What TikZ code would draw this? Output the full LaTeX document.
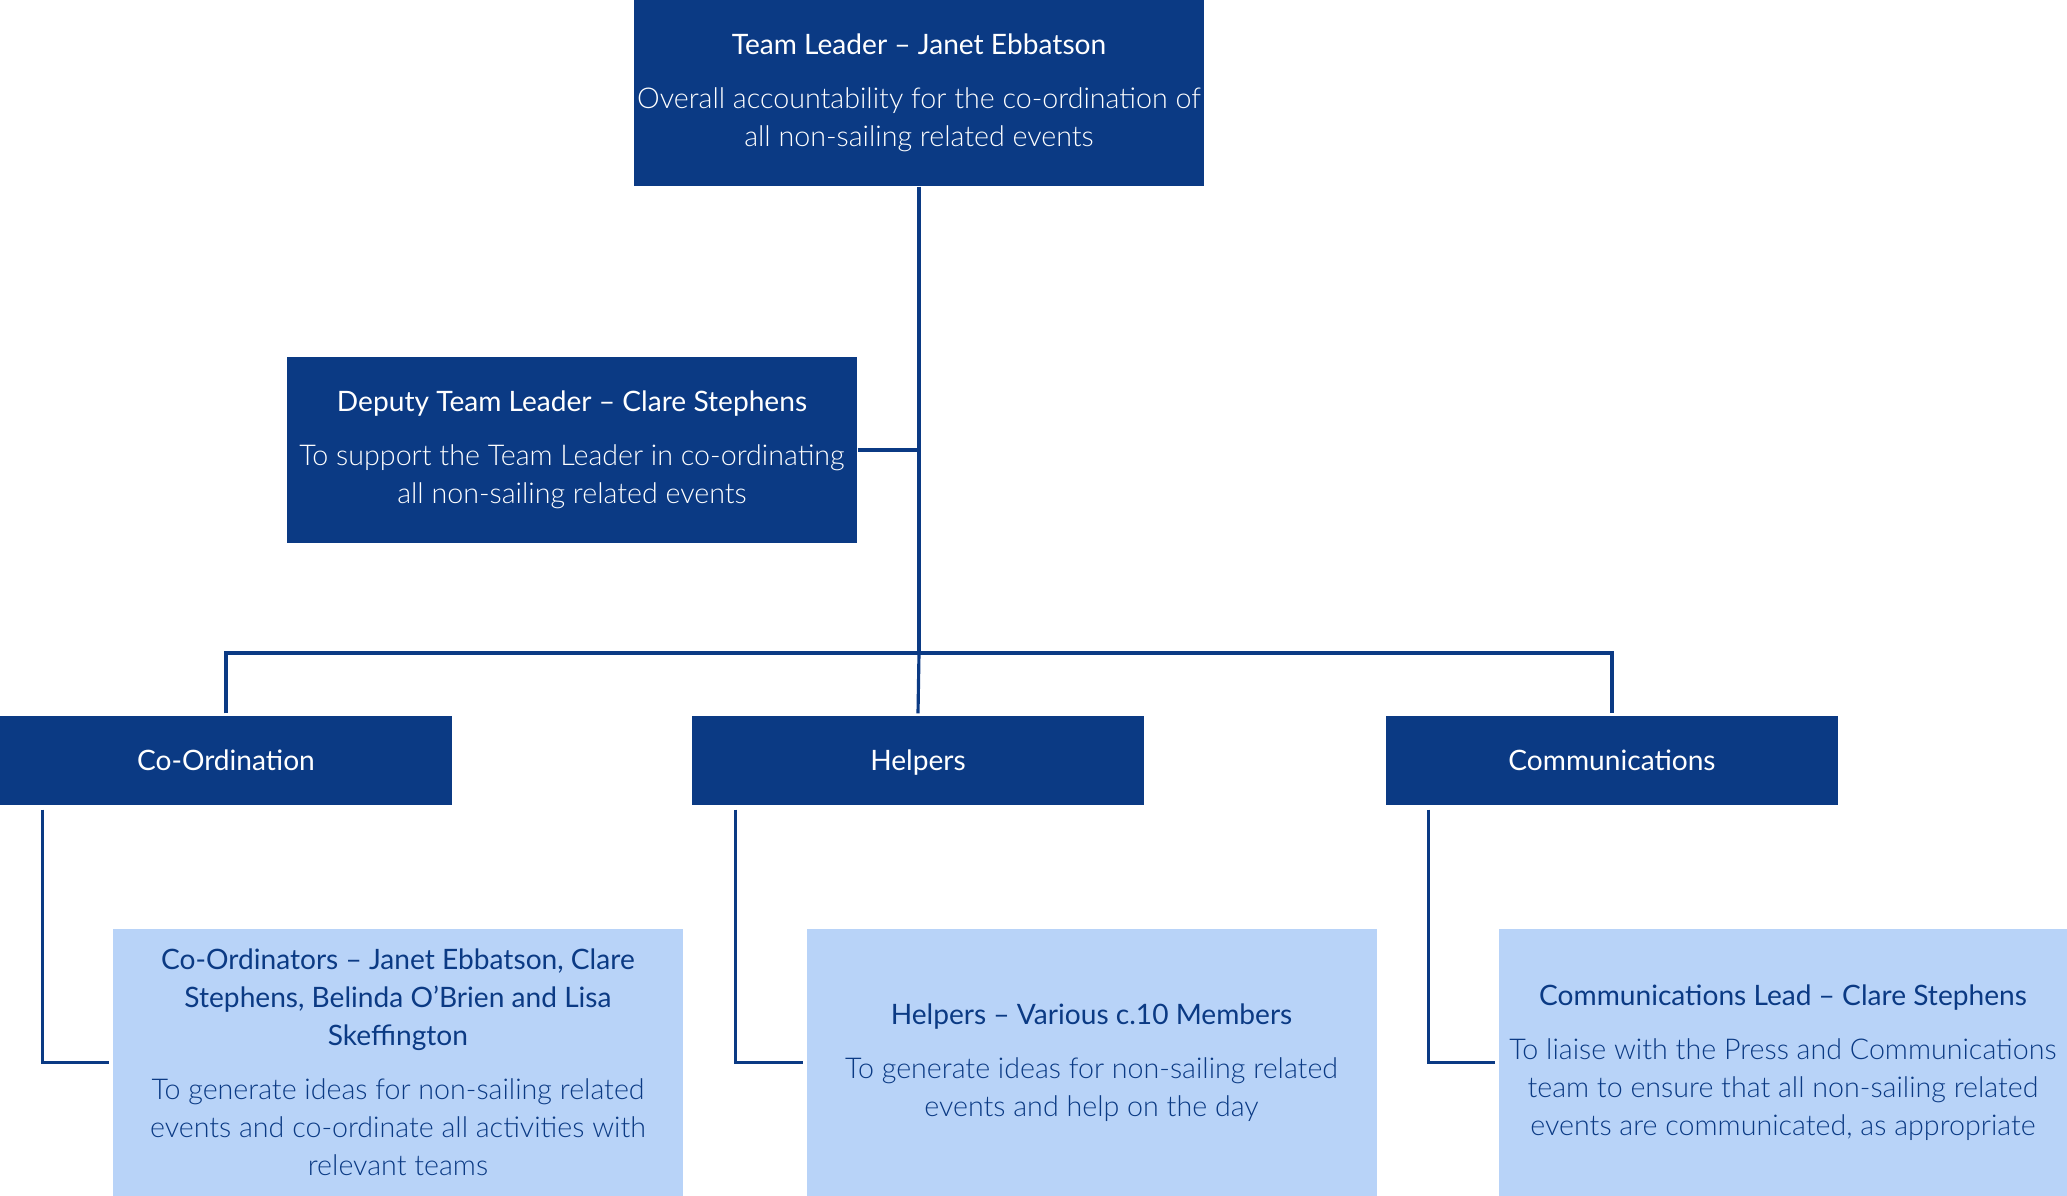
\documentclass[tikz,border=0pt]{standalone}
\usepackage{fontspec}
\setmainfont{Lato}
\newfontfamily\lightfont{Lato Light}
\definecolor{navy}{RGB}{11,58,132}
\definecolor{paleblue}{RGB}{184,211,248}
\begin{document}
\begin{tikzpicture}
\tikzstyle{every node}+=[inner sep=0pt]
\tikzstyle{darkbox}=[fill=navy, text=white, align=center, minimum width=5.7cm, minimum height=1.86cm, font=\fontsize{8}{10.8}\selectfont]
\tikzstyle{unitbox}=[fill=navy, text=white, align=center, minimum width=4.52cm, minimum height=0.89cm, text height=1.6ex, text depth=0.5ex, font=\fontsize{8}{10.8}\selectfont]
\tikzstyle{teambox}=[fill=paleblue, text=navy, align=center, minimum width=5.7cm, minimum height=2.67cm, font=\fontsize{8}{10.8}\selectfont]
\tikzstyle{conn}=[draw=navy, line width=0.9pt]
\useasboundingbox (0,0) rectangle (20.67,11.96);
% top of the tree
\node[darkbox] (lead) at (9.19,11.03) {Team Leader -- Janet Ebbatson\\[4.5pt]{\lightfont\fontsize{8.15}{10.8}\selectfont Overall accountability for the co-ordination of}\\{\lightfont\fontsize{8.15}{10.8}\selectfont all non-sailing related events}};
\node[darkbox] (deputy) at (5.72,7.46) {Deputy Team Leader -- Clare Stephens\\[4.5pt]{\lightfont\fontsize{8.15}{10.8}\selectfont To support the Team Leader in co-ordinating}\\{\lightfont\fontsize{8.15}{10.8}\selectfont all non-sailing related events}};
% the three units
\node[unitbox] (coord) at (2.26,4.355) {Co-Ordination};
\node[unitbox] (helpers) at (9.18,4.355) {Helpers};
\node[unitbox] (comms) at (16.12,4.355) {Communications};
% teams
\node[teambox] (coordteam) at (3.98,1.335) {Co-Ordinators -- Janet Ebbatson, Clare\\Stephens, Belinda O’Brien and Lisa\\Skeffington\\[4.5pt]{\lightfont\fontsize{8.15}{10.8}\selectfont To generate ideas for non-sailing related}\\{\lightfont\fontsize{8.15}{10.8}\selectfont events and co-ordinate all activities with}\\{\lightfont\fontsize{8.15}{10.8}\selectfont relevant teams}};
\node[teambox] (helpteam) at (10.915,1.335) {Helpers -- Various c.10 Members\\[4.5pt]{\lightfont\fontsize{8.15}{10.8}\selectfont To generate ideas for non-sailing related}\\{\lightfont\fontsize{8.15}{10.8}\selectfont events and help on the day}};
\node[teambox, minimum width=5.68cm] (commteam) at (17.83,1.335) {Communications Lead -- Clare Stephens\\[4.5pt]{\lightfont\fontsize{8.15}{10.8}\selectfont To liaise with the Press and Communications}\\{\lightfont\fontsize{8.15}{10.8}\selectfont team to ensure that all non-sailing related}\\{\lightfont\fontsize{8.15}{10.8}\selectfont events are communicated, as appropriate}};
% connectors
\coordinate (hub) at (9.19,5.43);
\draw[conn] (lead.south) -- (hub);
\draw[conn] (deputy.east) -- (deputy.east -| hub);
\draw[conn] ([yshift=0.02cm]coord.north) |- (hub) -| ([yshift=0.02cm]comms.north);
\draw[conn] (hub) -- ([yshift=0.02cm]helpers.north);
\draw[conn, shorten >=0.03cm] ([xshift=0.43cm,yshift=-0.04cm]coord.south west) |- (coordteam.west);
\draw[conn, shorten >=0.03cm] ([xshift=0.44cm,yshift=-0.04cm]helpers.south west) |- (helpteam.west);
\draw[conn, shorten >=0.03cm] ([xshift=0.43cm,yshift=-0.04cm]comms.south west) |- (commteam.west);
\end{tikzpicture}
\end{document}
